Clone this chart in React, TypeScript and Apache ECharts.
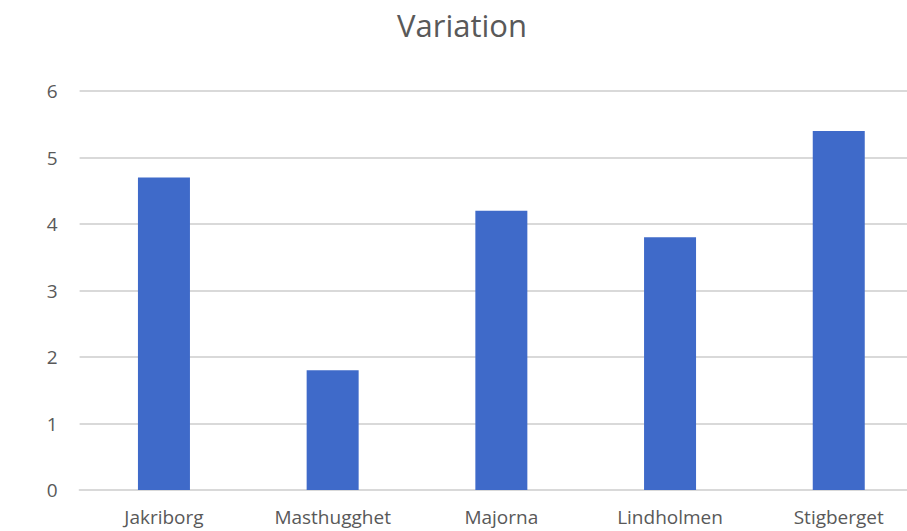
import React, { useEffect, useRef } from "react";
import * as echarts from "echarts";

const categories = ["Jakriborg", "Masthugghet", "Majorna", "Lindholmen", "Stigberget"];
const values = [4.7, 1.8, 4.2, 3.8, 5.4];
const yTicks = { min: 0, max: 6, interval: 1 };

export default function App() {
  const ref = useRef<HTMLDivElement>(null);
  useEffect(() => {
    if (!ref.current) return;
    const chart = echarts.init(ref.current, null, { renderer: "svg" });
    chart.setOption({
      animation: false,
      title: {
        text: "Variation",
        left: 457,
        textAlign: "center",
        top: 4,
        textStyle: { fontFamily: "Open Sans", fontSize: 31, fontWeight: "normal", color: "#595959" },
      },
      grid: { left: 79.6, top: 91, width: 843.5, height: 399, containLabel: false },
      xAxis: {
        type: "category",
        data: categories,
        axisLine: { show: true, lineStyle: { color: "#D9D9D9", width: 2 } },
        axisTick: { show: false },
        axisLabel: { color: "#595959", fontFamily: "Open Sans", fontSize: 19, margin: 17 },
      },
      yAxis: {
        type: "value",
        min: yTicks.min,
        max: yTicks.max,
        interval: yTicks.interval,
        axisLine: { show: false },
        axisTick: { show: false },
        splitLine: { lineStyle: { color: "#D9D9D9", width: 2 } },
        axisLabel: { color: "#595959", fontFamily: "Open Sans", fontSize: 19, margin: 22 },
      },
      series: [
        {
          type: "bar",
          data: values,
          barWidth: 52,
          itemStyle: { color: "#3F6AC9" },
        },
      ],
    });
    return () => chart.dispose();
  }, []);
  return (
    <div style={{ position: "fixed", left: 0, top: 0, width: 907, height: 531, overflow: "hidden", background: "#fff" }}>
      <div ref={ref} style={{ position: "absolute", left: 0, top: 0, width: 940, height: 531 }} />
    </div>
  );
}
